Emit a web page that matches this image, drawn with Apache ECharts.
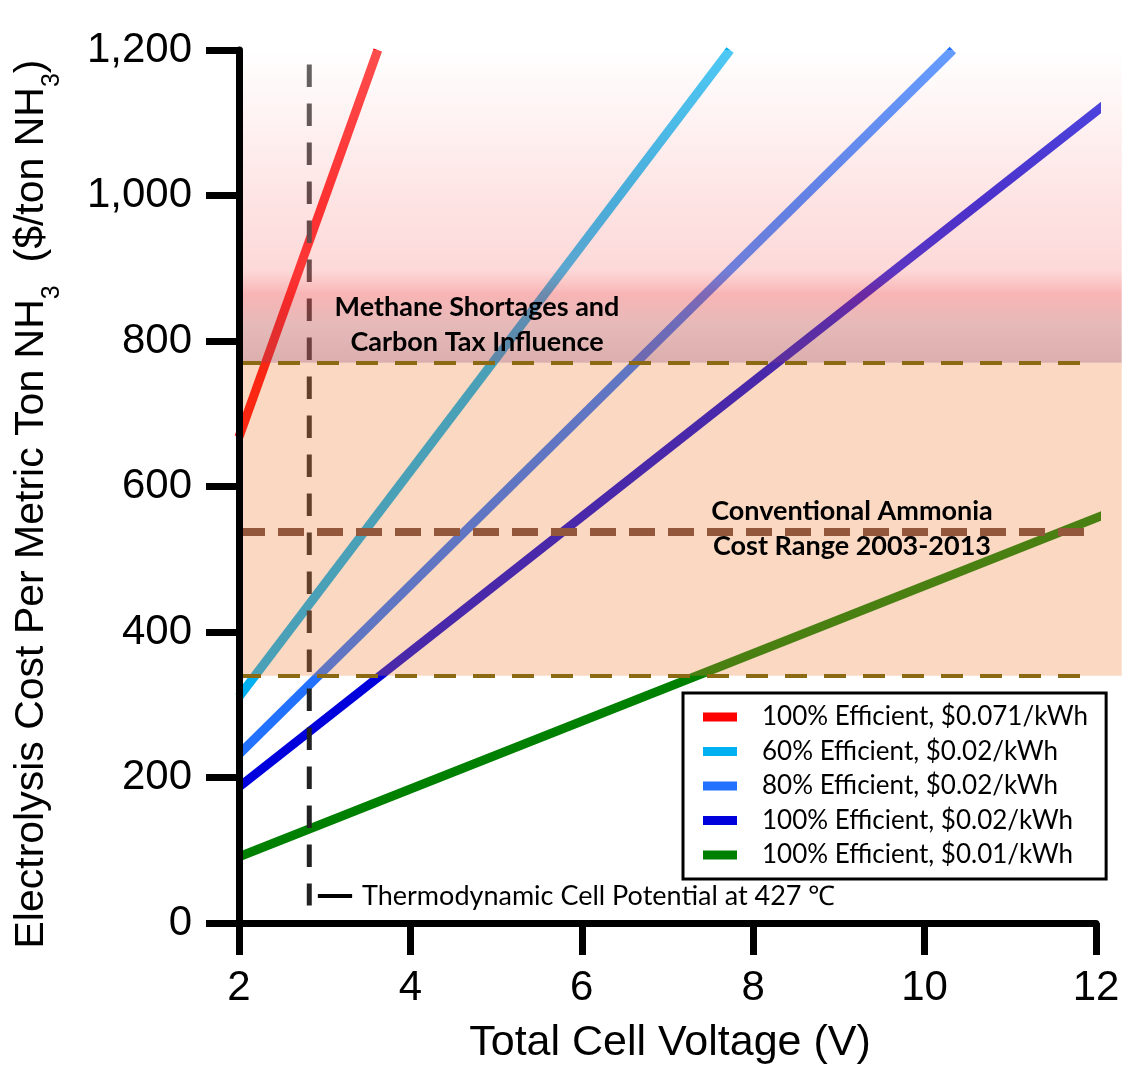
<!DOCTYPE html>
<html>
<head>
<meta charset="utf-8">
<title>Electrolysis cost per ton NH3</title>
<script src="https://cdn.jsdelivr.net/npm/echarts@6/dist/echarts.min.js"></script>
<style>
html, body { margin: 0; padding: 0; background: #fff; }
#chart { width: 1140px; height: 1072px; }
</style>
</head>
<body>
<div id="chart"></div>
<script>
// values: cost ($/ton NH3) against total cell voltage (V)
const seriesNames = [
  '100% Efficient, $0.071/kWh',
  '60% Efficient, $0.02/kWh',
  '80% Efficient, $0.02/kWh',
  '100% Efficient, $0.02/kWh',
  '100% Efficient, $0.01/kWh'
];
const eff100at071 = [[2, 668], [3.62, 1200]];
const eff60at02 = [[2, 311], [7.73, 1200]];
const eff80at02 = [[2, 232], [10.33, 1200]];
const eff100at02 = [[2, 187], [12.2, 1134]];
const eff100at01 = [[2, 91], [12.2, 566]];
const xTicks = [2, 4, 6, 8, 10, 12];
const yTicks = [0, 200, 400, 600, 800, 1000, 1200];

// cost ranges and reference lines
const conventionalRange = [340, 770];
const methaneRange = [770, 1200];
const conventionalMid = 538;
const bandEndV = 12.3;
const thermoVoltage = 2.82;
const thermoSpan = [24, 1180];
const thermoKey = [[2.92, 37], [3.32, 37]];

const colors = ['#ff0000', '#00b0f0', '#2272ff', '#0000dc', '#008000'];
const lineData = [eff100at071, eff60at02, eff80at02, eff100at02, eff100at01];
const bandData = [
  [xTicks[0], conventionalRange[0], bandEndV, conventionalRange[1]],
  [xTicks[0], methaneRange[0], bandEndV, methaneRange[1]]
];

const chart = echarts.init(document.getElementById('chart'));

const lineSeries = lineData.map((d, i) => ({
  name: seriesNames[i],
  type: 'line',
  data: d,
  symbol: 'none',
  clip: false,
  silent: true,
  z: 2,
  lineStyle: { width: 9, color: colors[i], cap: 'butt' },
  itemStyle: { color: colors[i] }
}));

// the bands are laid over the lines, so they tint them
const bandFills = [
  'rgba(239,129,58,0.31)',
  new echarts.graphic.LinearGradient(0, 0, 0, 1, [
    { offset: 0, color: 'rgba(255,255,255,0.3)' },
    { offset: 0.5, color: 'rgba(250,160,160,0.3)' },
    { offset: 0.7, color: 'rgba(250,150,150,0.36)' },
    { offset: 0.78, color: 'rgba(240,90,90,0.45)' },
    { offset: 0.88, color: 'rgba(200,100,100,0.45)' },
    { offset: 1, color: 'rgba(185,95,95,0.5)' }
  ])
];

const calibri = 'Lato, "Open Sans", sans-serif';

chart.setOption({
  animation: false,
  backgroundColor: '#fff',
  grid: { left: 239, right: 44, top: 50, bottom: 149 },
  xAxis: {
    type: 'value',
    z: 5,
    min: xTicks[0],
    max: xTicks[xTicks.length - 1],
    interval: xTicks[1] - xTicks[0],
    axisLine: { lineStyle: { color: '#000', width: 7 } },
    axisTick: { length: 32, lineStyle: { color: '#000', width: 7 } },
    axisLabel: { color: '#000', fontSize: 42, fontFamily: 'Liberation Sans', margin: 44 },
    splitLine: { show: false }
  },
  yAxis: {
    type: 'value',
    z: 5,
    min: yTicks[0],
    max: yTicks[yTicks.length - 1],
    interval: yTicks[1] - yTicks[0],
    axisLine: { lineStyle: { color: '#000', width: 7 } },
    axisTick: { length: 33, lineStyle: { color: '#000', width: 7 } },
    axisLabel: {
      color: '#000', fontSize: 42, fontFamily: 'Liberation Sans', margin: 47,
      formatter: v => v.toLocaleString('en-US')
    },
    splitLine: { show: false }
  },
  legend: {
    orient: 'vertical',
    left: 683,
    top: 693,
    padding: [11, 18, 11, 20],
    itemGap: 8.5,
    itemWidth: 34,
    itemHeight: 9,
    icon: 'rect',
    backgroundColor: '#fff',
    borderColor: '#000',
    borderWidth: 3,
    selectedMode: false,
    data: seriesNames,
    textStyle: { color: '#000', fontSize: 26, fontFamily: calibri, padding: [0, 0, 0, 20] }
  },
  series: [
    ...lineSeries,
    {
      name: 'thermo',
      type: 'line',
      data: [[thermoVoltage, thermoSpan[1]], [thermoVoltage, thermoSpan[0]]],
      symbol: 'none',
      silent: true,
      z: 2,
      lineStyle: { color: '#222', width: 5, type: [22.5, 16.5] }
    },
    {
      name: 'bands',
      type: 'custom',
      data: bandData,
      encode: { x: [0, 2], y: [1, 3] },
      clip: false,
      silent: true,
      z: 3,
      renderItem: (params, api) => {
        const p0 = api.coord([api.value(0), api.value(3)]);
        const p1 = api.coord([api.value(2), api.value(1)]);
        return {
          type: 'rect',
          shape: { x: p0[0], y: p0[1], width: p1[0] - p0[0], height: p1[1] - p0[1] },
          style: { fill: bandFills[params.dataIndex] }
        };
      }
    },
    {
      name: 'ranges',
      type: 'line',
      data: [],
      clip: false,
      silent: true,
      z: 4,
      markLine: {
        silent: true,
        symbol: 'none',
        label: { show: false },
        data: [
          [{ coord: [xTicks[0], conventionalRange[1]], lineStyle: { color: '#8c6a14', width: 4, type: [22, 17] } },
           { coord: [xTicks[xTicks.length - 1], conventionalRange[1]] }],
          [{ coord: [xTicks[0], conventionalRange[0]], lineStyle: { color: '#8c6a14', width: 4, type: [22, 17] } },
           { coord: [xTicks[xTicks.length - 1], conventionalRange[0]] }],
          [{ coord: [xTicks[0], conventionalMid], lineStyle: { color: '#93583c', width: 8, type: [26, 13] } },
           { coord: [xTicks[xTicks.length - 1], conventionalMid] }]
        ]
      }
    },
    {
      name: 'thermoKey',
      type: 'line',
      data: thermoKey,
      symbol: 'none',
      silent: true,
      z: 4,
      lineStyle: { color: '#000', width: 4 }
    }
  ],
  graphic: [
    {
      type: 'text', x: 32, y: 504, rotation: Math.PI / 2,
      style: {
        text: '{m|Electrolysis Cost Per Metric Ton NH}{s|3}{m|  ($/ton NH}{s|3}{m|)}',
        align: 'center', verticalAlign: 'middle',
        rich: {
          m: { fontSize: 41, fontFamily: 'Liberation Sans', lineHeight: 41, verticalAlign: 'top', fill: '#000' },
          s: { fontSize: 25, fontFamily: 'Liberation Sans', lineHeight: 25, verticalAlign: 'top', padding: [28, 0, 0, 0], fill: '#000' }
        }
      }
    },
    {
      type: 'text', x: 670, y: 1043,
      style: { text: 'Total Cell Voltage (V)', align: 'center', verticalAlign: 'middle',
        fontSize: 43, fontFamily: 'Liberation Sans', fill: '#000' }
    },
    {
      type: 'text', x: 362, y: 896, z: 10,
      style: { text: 'Thermodynamic Cell Potential at 427 ℃', align: 'left', verticalAlign: 'middle',
        fontSize: 27, fontFamily: calibri, fill: '#000' }
    },
    {
      type: 'text', x: 477, y: 325, z: 10,
      style: { text: 'Methane Shortages and\nCarbon Tax Influence', align: 'center', verticalAlign: 'middle',
        fontSize: 27, fontWeight: 'bold', lineHeight: 35, fontFamily: calibri, fill: '#000' }
    },
    {
      type: 'text', x: 852, y: 529, z: 10,
      style: { text: 'Conventional Ammonia\nCost Range 2003-2013', align: 'center', verticalAlign: 'middle',
        fontSize: 27, fontWeight: 'bold', lineHeight: 35, fontFamily: calibri, fill: '#000' }
    }
  ]
});
</script>
</body>
</html>
